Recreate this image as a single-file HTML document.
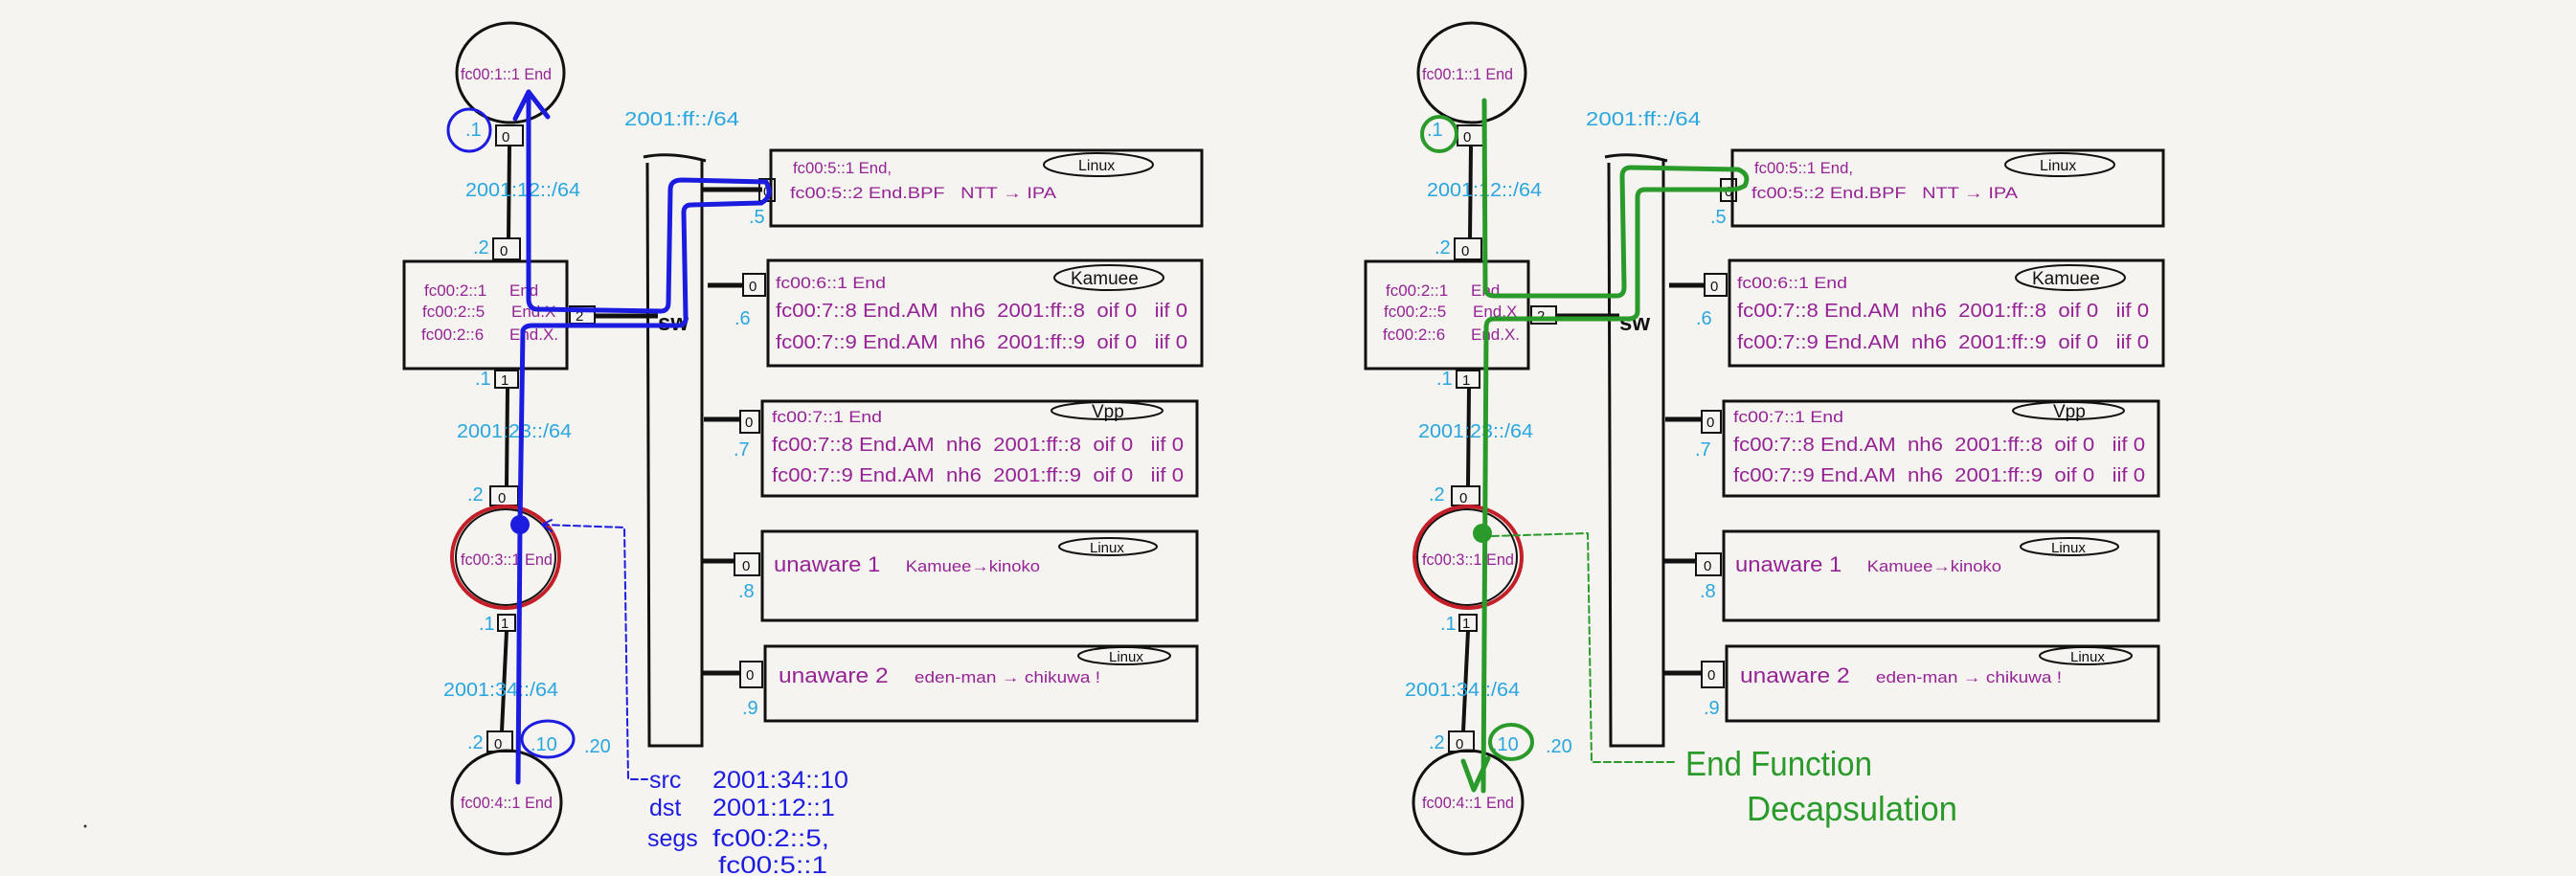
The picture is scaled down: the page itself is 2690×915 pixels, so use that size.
<!DOCTYPE html>
<html><head><meta charset="utf-8"><style>
html,body{margin:0;padding:0;background:#f5f4f0;}
svg{display:block}
.p{fill:#952395;font-family:"Liberation Sans",sans-serif;font-size:17px}
.b{fill:#2aa6df;font-family:"Liberation Sans",sans-serif;font-size:20px}
.k{fill:#111;font-family:"Liberation Sans",sans-serif;font-size:15px}
.bl{fill:#1c1ce0;font-family:"Liberation Sans",sans-serif;font-size:25px}
.gr{fill:#2a9a2a;font-family:"Liberation Sans",sans-serif;font-size:36px}
</style></head><body>
<svg width="2690" height="915" viewBox="0 0 2690 915" xmlns="http://www.w3.org/2000/svg">
<defs>
<g id="base" stroke="#111" fill="none" stroke-width="3">
  <ellipse cx="533" cy="76" rx="56" ry="52"/>
  <ellipse cx="529" cy="838" rx="57" ry="54"/>
  <ellipse cx="528" cy="582" rx="52" ry="50" stroke-width="2"/>
  <line x1="532" y1="152" x2="531" y2="250" stroke-width="4"/>
  <line x1="530" y1="405" x2="529" y2="508" stroke-width="4"/>
  <line x1="529" y1="659" x2="524" y2="764" stroke-width="4"/>
  <rect x="518" y="131" width="28" height="21" stroke-width="2"/>
  <rect x="515" y="249" width="28" height="22" stroke-width="2"/>
  <rect x="422" y="273" width="170" height="112"/>
  <rect x="517" y="387" width="24" height="18" stroke-width="2"/>
  <rect x="512" y="508" width="29" height="20" stroke-width="2"/>
  <rect x="520" y="642" width="18" height="17" stroke-width="2"/>
  <rect x="509" y="764" width="26" height="21" stroke-width="2"/>
  <rect x="595" y="320" width="26" height="18" stroke-width="2"/>
  <line x1="621" y1="330" x2="687" y2="330" stroke-width="5"/>
  <path d="M676 170 L678 779 L733 779 L733 168 M672 164 Q700 158 737 168"/>
  <line x1="733" y1="198" x2="796" y2="198" stroke-width="5"/>
  <line x1="739" y1="298" x2="776" y2="298" stroke-width="5"/>
  <line x1="735" y1="438" x2="773" y2="438" stroke-width="5"/>
  <line x1="733" y1="586" x2="767" y2="586" stroke-width="5"/>
  <line x1="733" y1="703" x2="773" y2="703" stroke-width="5"/>
  <rect x="805" y="157" width="450" height="79"/>
  <rect x="793" y="187" width="16" height="23" stroke-width="2"/>
  <rect x="802" y="272" width="453" height="110"/>
  <rect x="776" y="286" width="23" height="23" stroke-width="2"/>
  <rect x="796" y="419" width="454" height="99"/>
  <rect x="773" y="429" width="20" height="23" stroke-width="2"/>
  <rect x="796" y="555" width="454" height="93"/>
  <rect x="767" y="578" width="26" height="23" stroke-width="2"/>
  <rect x="799" y="675" width="451" height="78"/>
  <rect x="773" y="691" width="23" height="27" stroke-width="2"/>
  <ellipse cx="1147" cy="172" rx="57" ry="12" stroke-width="2"/>
  <ellipse cx="1158" cy="290" rx="57" ry="13" stroke-width="2"/>
  <ellipse cx="1156" cy="429" rx="58" ry="9" stroke-width="2"/>
  <ellipse cx="1157" cy="571" rx="51" ry="9" stroke-width="2"/>
  <ellipse cx="1174" cy="685" rx="48" ry="9" stroke-width="2"/>
</g>
<g id="txt">
  <text class="p" x="481" y="83" textLength="95" lengthAdjust="spacingAndGlyphs">fc00:1::1 End</text>
  <text class="p" x="481" y="590" textLength="96" lengthAdjust="spacingAndGlyphs">fc00:3::1 End</text>
  <text class="p" x="481" y="844" textLength="96" lengthAdjust="spacingAndGlyphs">fc00:4::1 End</text>
  <text class="p" x="443" y="309">fc00:2::1</text><text class="p" x="532" y="309">End</text>
  <text class="p" x="441" y="331">fc00:2::5</text><text class="p" x="534" y="331">End.X</text>
  <text class="p" x="440" y="355">fc00:2::6</text><text class="p" x="532" y="355">End.X.</text>
  <text class="k" x="524" y="148">0</text><text class="k" x="522" y="267">0</text>
  <text class="k" x="523" y="402">1</text><text class="k" x="520" y="525">0</text>
  <text class="k" x="523" y="656">1</text><text class="k" x="516" y="782">0</text>
  <text class="k" x="601" y="335">2</text>
  <text class="k" x="797" y="205">0</text><text class="k" x="782" y="304">0</text>
  <text class="k" x="778" y="446">0</text><text class="k" x="775" y="596">0</text>
  <text class="k" x="779" y="710">0</text>
  <text x="687" y="345" font-family="Liberation Sans,sans-serif" font-size="24" font-weight="bold" fill="#111">sw</text>
  <text class="b" x="486" y="142">.1</text>
  <text class="b" x="486" y="205" textLength="120" lengthAdjust="spacingAndGlyphs">2001:12::/64</text>
  <text class="b" x="494" y="265">.2</text>
  <text class="b" x="496" y="402">.1</text>
  <text class="b" x="477" y="457" textLength="120" lengthAdjust="spacingAndGlyphs">2001:23::/64</text>
  <text class="b" x="488" y="523">.2</text>
  <text class="b" x="500" y="658">.1</text>
  <text class="b" x="463" y="727" textLength="120" lengthAdjust="spacingAndGlyphs">2001:34::/64</text>
  <text class="b" x="488" y="782">.2</text>
  <text class="b" x="554" y="784">.10</text>
  <text class="b" x="610" y="786">.20</text>
  <text class="b" x="652" y="131" textLength="120" lengthAdjust="spacingAndGlyphs">2001:ff::/64</text>
  <text class="b" x="782" y="233">.5</text>
  <text class="b" x="767" y="339">.6</text>
  <text class="b" x="766" y="476">.7</text>
  <text class="b" x="771" y="624">.8</text>
  <text class="b" x="775" y="746">.9</text>
  <text class="p" x="828" y="181" textLength="103" lengthAdjust="spacingAndGlyphs">fc00:5::1 End,</text>
  <text class="p" x="825" y="207" textLength="278" lengthAdjust="spacingAndGlyphs">fc00:5::2 End.BPF&#160;&#160;&#160;NTT &#8594; IPA</text>
  <text class="p" x="810" y="301" textLength="115" lengthAdjust="spacingAndGlyphs">fc00:6::1 End</text>
  <text class="p" x="810" y="331" style="font-size:20px" textLength="430" lengthAdjust="spacingAndGlyphs">fc00:7::8 End.AM&#160;&#160;nh6&#160;&#160;2001:ff::8&#160;&#160;oif 0&#160;&#160;&#160;iif 0</text>
  <text class="p" x="810" y="364" style="font-size:20px" textLength="430" lengthAdjust="spacingAndGlyphs">fc00:7::9 End.AM&#160;&#160;nh6&#160;&#160;2001:ff::9&#160;&#160;oif 0&#160;&#160;&#160;iif 0</text>
  <text class="p" x="806" y="441" textLength="115" lengthAdjust="spacingAndGlyphs">fc00:7::1 End</text>
  <text class="p" x="806" y="471" style="font-size:20px" textLength="430" lengthAdjust="spacingAndGlyphs">fc00:7::8 End.AM&#160;&#160;nh6&#160;&#160;2001:ff::8&#160;&#160;oif 0&#160;&#160;&#160;iif 0</text>
  <text class="p" x="806" y="503" style="font-size:20px" textLength="430" lengthAdjust="spacingAndGlyphs">fc00:7::9 End.AM&#160;&#160;nh6&#160;&#160;2001:ff::9&#160;&#160;oif 0&#160;&#160;&#160;iif 0</text>
  <text class="p" x="808" y="597" style="font-size:22px" textLength="278" lengthAdjust="spacingAndGlyphs">unaware 1&#160;&#160;&#160;&#160;<tspan style="font-size:17px">Kamuee&#8594;kinoko</tspan></text>
  <text class="p" x="813" y="713" style="font-size:22px" textLength="336" lengthAdjust="spacingAndGlyphs">unaware 2&#160;&#160;&#160;&#160;<tspan style="font-size:17px">eden-man &#8594; chikuwa !</tspan></text>
  <text x="1126" y="178" font-family="Liberation Sans,sans-serif" font-size="16" fill="#111">Linux</text>
  <text x="1118" y="297" font-family="Liberation Sans,sans-serif" font-size="19" fill="#111">Kamuee</text>
  <text x="1140" y="436" font-family="Liberation Sans,sans-serif" font-size="19" fill="#111">Vpp</text>
  <text x="1138" y="577" font-family="Liberation Sans,sans-serif" font-size="15" fill="#111">Linux</text>
  <text x="1158" y="691" font-family="Liberation Sans,sans-serif" font-size="15" fill="#111">Linux</text>
</g>
</defs>

<use href="#base"/>
<use href="#txt"/>
<use href="#base" transform="translate(1004,0)"/>
<use href="#txt" transform="translate(1004,0)"/>

<ellipse cx="528" cy="582" rx="56" ry="53" fill="none" stroke="#c41f28" stroke-width="4"/>
<ellipse cx="1533" cy="582" rx="56" ry="53" fill="none" stroke="#c41f28" stroke-width="4"/>

<g stroke="#1c1ce0" stroke-width="5" fill="none" stroke-linecap="round" stroke-linejoin="round">
  <path d="M541 817 L543 548 L546 345 Q548 340 556 340 L708 340 Q717 340 716 330 L714 222 Q714 214 722 214 L795 212 Q808 205 800 190 L712 188 Q700 188 700 198 L698 316 Q698 325 690 325 L560 323 Q552 322 552 312 L552 96"/>
  <path d="M538 124 L552 96 L572 122"/>
  <circle cx="490" cy="136" r="22" stroke-width="3"/>
  <ellipse cx="572" cy="772" rx="27" ry="19" stroke-width="3"/>
  <path d="M566 548 L652 551 L656 814 L676 814" stroke-width="2" stroke-dasharray="7,4"/>
  <path d="M576 543 L566 548 L576 555" stroke-width="2"/>
</g>
<circle cx="543" cy="548" r="10" fill="#1c1ce0"/>
<text class="bl" x="678" y="823">src</text><text class="bl" x="744" y="823" textLength="142" lengthAdjust="spacingAndGlyphs">2001:34::10</text>
<text class="bl" x="678" y="852">dst</text><text class="bl" x="744" y="852" textLength="128" lengthAdjust="spacingAndGlyphs">2001:12::1</text>
<text class="bl" x="676" y="884">segs</text><text class="bl" x="744" y="884" textLength="122" lengthAdjust="spacingAndGlyphs">fc00:2::5,</text>
<text class="bl" x="750" y="912" textLength="114" lengthAdjust="spacingAndGlyphs">fc00:5::1</text>

<g stroke="#2a9a2a" stroke-width="5" fill="none" stroke-linecap="round" stroke-linejoin="round">
  <path d="M1550 105 L1551 300 Q1551 309 1560 309 L1688 309 Q1696 309 1696 300 L1694 184 Q1694 175 1703 175 L1815 177 Q1828 182 1822 194 Q1815 198 1808 198 L1718 198 Q1710 198 1710 206 L1710 325 Q1710 333 1700 333 L1560 333 Q1552 333 1552 342 L1549 826"/>
  <path d="M1528 795 L1539 825 L1554 792"/>
  <circle cx="1503" cy="140" r="18" stroke-width="4"/>
  <ellipse cx="1578" cy="775" rx="22" ry="18" stroke-width="4"/>
  <path d="M1558 560 L1658 557 L1662 796 L1750 796" stroke-width="2" stroke-dasharray="7,4"/>
</g>
<circle cx="1548" cy="557" r="10" fill="#2a9a2a"/>
<text class="gr" x="1760" y="810" textLength="195" lengthAdjust="spacingAndGlyphs">End Function</text>
<text class="gr" x="1824" y="857" textLength="220" lengthAdjust="spacingAndGlyphs">Decapsulation</text>
<circle cx="89" cy="863" r="1.5" fill="#333"/>
</svg>
</body></html>
